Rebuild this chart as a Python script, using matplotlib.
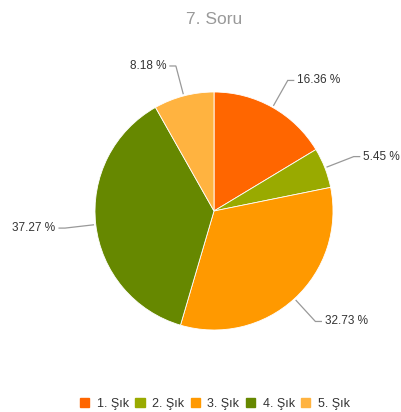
import numpy as np
import matplotlib.pyplot as plt

plt.rcParams['font.family'] = ['Liberation Sans', 'DejaVu Sans']

# Veriler
labels = ['1. Şık', '2. Şık', '3. Şık', '4. Şık', '5. Şık']
counts = [18, 6, 36, 41, 9]
percents = ['16.36 %', '5.45 %', '32.73 %', '37.27 %', '8.18 %']
colors = ['#ff6600', '#99aa00', '#ff9900', '#668800', '#ffb340']

W, H = 402, 412
fig = plt.figure(figsize=(W / 100, H / 100), dpi=100)

# pasta merkezi ve yarıçap (piksel)
cx, cy, R = 214, 211, 119
ax = fig.add_axes([(cx - R) / W, 1 - (cy + R) / H, 2 * R / W, 2 * R / H])

wedges, _ = ax.pie(counts, colors=colors, startangle=90, counterclock=False,
                   radius=1, wedgeprops=dict(edgecolor='white', linewidth=0.6))
ax.set_xlim(-1, 1)
ax.set_ylim(-1, 1)
ax.axis('off')

for w, txt in zip(wedges, percents):
    ang = np.deg2rad((w.theta1 + w.theta2) / 2)
    x0, y0 = np.cos(ang) * 1.02, np.sin(ang) * 1.02
    x1, y1 = np.cos(ang) * 1.26, np.sin(ang) * 1.26
    side = 1 if x1 >= 0 else -1
    x2 = x1 + side * 0.05
    ax.plot([x0, x1, x2], [y0, y1, y1], color='#999999', lw=0.9,
            clip_on=False, solid_joinstyle='miter')
    ax.text(x2 + side * 0.03, y1, txt, ha='left' if side > 0 else 'right',
            va='center', fontsize=8.5, color='#333333')

fig.text(214 / W, 1 - 20 / H, '7. Soru', ha='center', va='center',
         fontsize=12.5, color='#999999')

handles = [plt.Rectangle((0, 0), 1, 1, color=c) for c in colors]
fig.legend(handles, labels, loc='center', bbox_to_anchor=(215 / W, 1 - 404 / H),
           ncol=5, frameon=False, fontsize=9, handlelength=0.75, handleheight=0.75,
           handletextpad=0.6, columnspacing=0.5, labelcolor='#333333')

fig.savefig('out.png', dpi=100)
